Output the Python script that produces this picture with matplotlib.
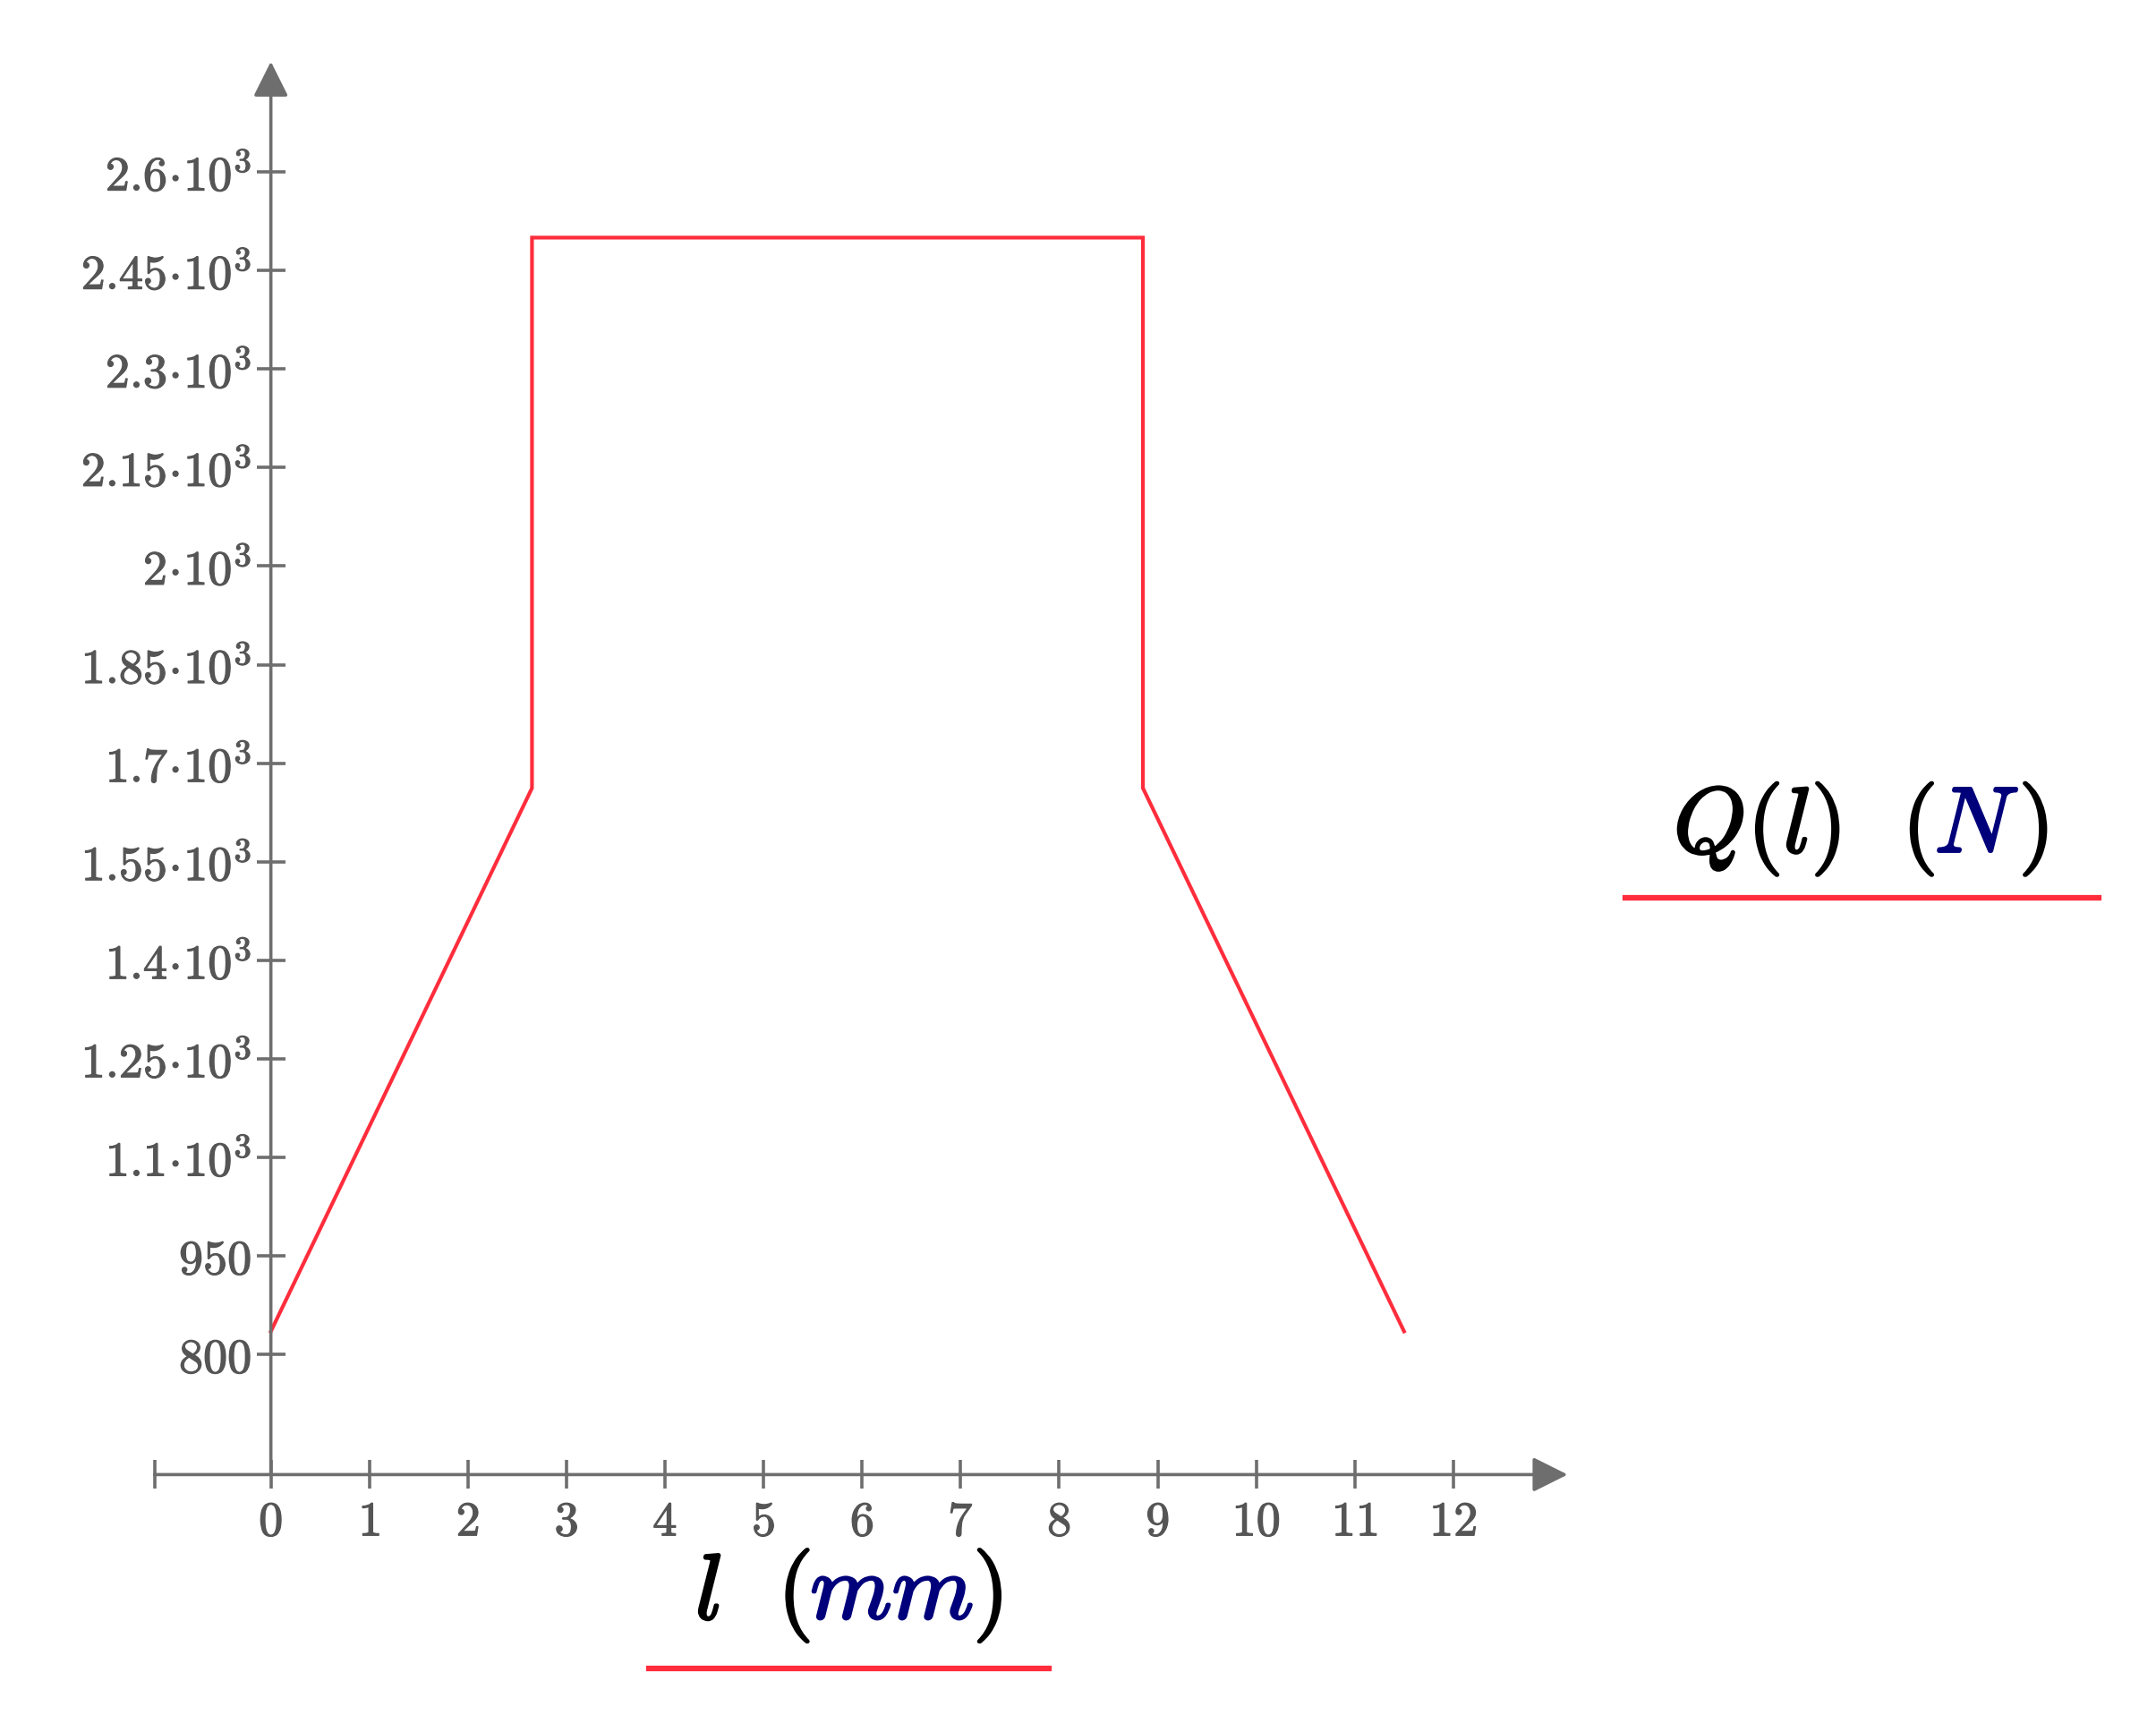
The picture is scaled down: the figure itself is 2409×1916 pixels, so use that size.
import matplotlib
matplotlib.use("Agg")
import matplotlib.pyplot as plt
import matplotlib.patheffects as pe
from matplotlib.lines import Line2D
from matplotlib.ticker import FixedLocator, FixedFormatter

plt.rcParams["mathtext.fontset"] = "cm"

# Data (l in mm, Q in N)
l_mm = [0, 2.65, 2.65, 8.85, 8.85, 11.5]
q_n = [835, 1662, 2500, 2500, 1662, 835]

x_ticks = list(range(0, 13))
y_ticks = [800, 950, 1100, 1250, 1400, 1550, 1700, 1850, 2000, 2150, 2300, 2450, 2600]
y_tick_labels = ["800", "950", "1.1", "1.25", "1.4", "1.55", "1.7", "1.85", "2", "2.15", "2.3", "2.45", "2.6"]

axis_gray = "#6e6e6e"
label_gray = "#555555"
red = "#ff2d3c"
navy = "#00007a"

fig = plt.figure(figsize=(24.09, 19.16), dpi=100)
ax = fig.add_axes([0.0685, 0.1375, 0.665, 0.8312])
ax.set_xlim(-1.25, 13.3)
ax.set_ylim(610, 2780)

x_origin_y = 617
x_start, x_end = -1.18, 13.16
y_end = 2768

for s in ax.spines.values():
    s.set_visible(False)
ax.spines["left"].set_position(("data", 0))
ax.spines["bottom"].set_position(("data", x_origin_y))

# axes with arrow heads
arrow = dict(arrowstyle="-|>,head_length=1.0,head_width=0.5", color=axis_gray,
             lw=2.6, mutation_scale=24, shrinkA=0, shrinkB=0)
ax.annotate("", xy=(0, y_end), xytext=(0, x_origin_y), arrowprops=arrow, annotation_clip=False)
ax.annotate("", xy=(x_end, x_origin_y), xytext=(x_start, x_origin_y), arrowprops=arrow, annotation_clip=False)

# ticks
ax.xaxis.set_major_locator(FixedLocator(x_ticks))
ax.xaxis.set_major_formatter(FixedFormatter([f"${v}$" for v in x_ticks]))
ax.xaxis.set_minor_locator(FixedLocator([x_start]))
ax.yaxis.set_major_locator(FixedLocator(y_ticks))
ylabs = []
for v, t in zip(y_ticks, y_tick_labels):
    ylabs.append(f"${t}$" if v < 1000 else rf"${t}\!\cdot\!10^{{3}}$")
ax.yaxis.set_major_formatter(FixedFormatter(ylabs))

ax.tick_params(axis="both", which="both", direction="inout", length=23, width=2.6,
               color=axis_gray, labelcolor=label_gray, labelsize=39)
ax.tick_params(axis="x", pad=8)
ax.tick_params(axis="y", pad=4)
for lab in ax.get_xticklabels() + ax.get_yticklabels():
    lab.set_path_effects([pe.withStroke(linewidth=0.9, foreground=label_gray)])

ax.plot(l_mm, q_n, color=red, lw=3.0, solid_joinstyle="miter")

# multi-coloured axis titles
renderer = fig.canvas.get_renderer()


def colored_label(pieces, cx, y, size):
    texts = []
    for s, c in pieces:
        t = fig.text(0, y, s, color=c, fontsize=size, va="baseline", ha="left")
        t.set_path_effects([pe.withStroke(linewidth=2.0, foreground=c)])
        texts.append(t)
    widths = [t.get_window_extent(renderer).width / fig.bbox.width for t in texts]
    x = cx - sum(widths) / 2
    for t, w in zip(texts, widths):
        t.set_x(x)
        x += w


colored_label([(r"$l\ \ ($", "black"), (r"$mm$", navy), (r"$)$", "black")], 0.3936, 0.056, 75)
colored_label([(r"$Q(l)\ \ ($", "black"), (r"$N$", navy), (r"$)$", "black")], 0.863, 0.503, 75)

fig.add_artist(Line2D([0.301, 0.4865], [0.0271, 0.0271], color=red, lw=4.5))
fig.add_artist(Line2D([0.754, 0.9734], [0.4765, 0.4765], color=red, lw=4.5))

fig.savefig("out.png", dpi=100, facecolor="white")
